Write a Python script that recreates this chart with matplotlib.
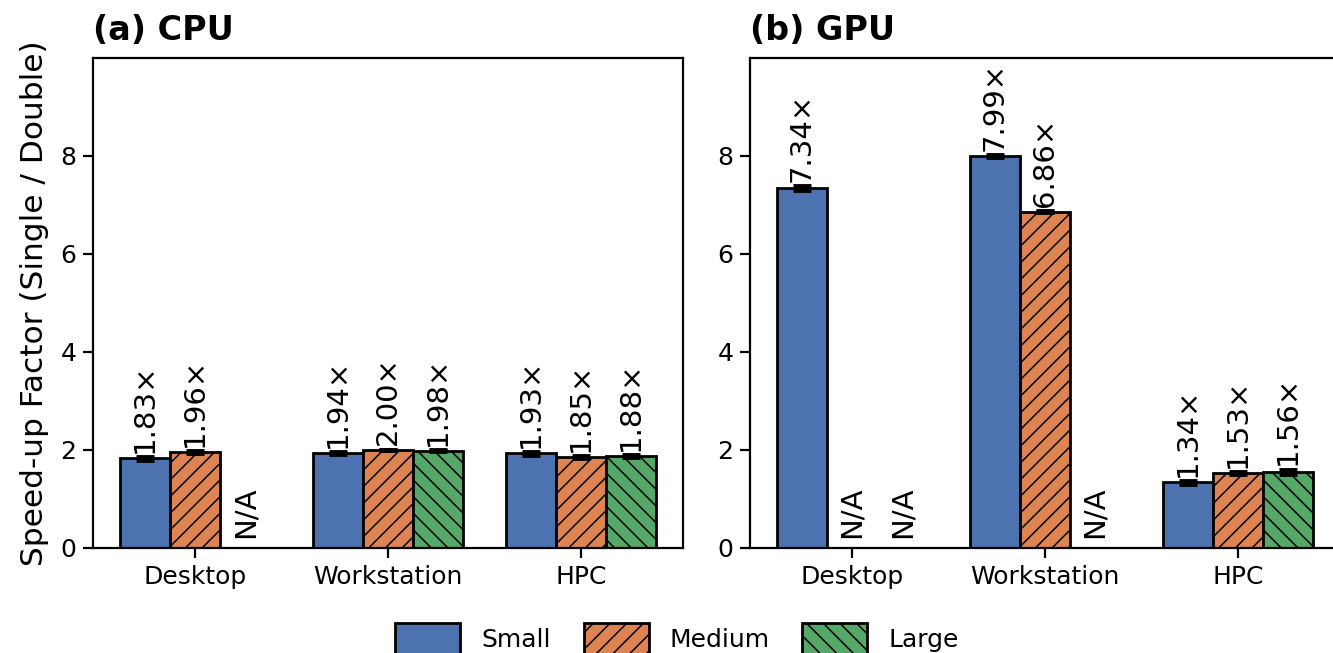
import numpy as np
import matplotlib
matplotlib.use("Agg")
import matplotlib.pyplot as plt
from matplotlib.patches import Patch

# Speed-up of single over double precision, per machine and problem size
machines = ["Desktop", "Workstation", "HPC"]
sizes = ["Small", "Medium", "Large"]

cpu_small = [1.83, 1.94, 1.93]
cpu_medium = [1.96, 2.00, 1.85]
cpu_large = [np.nan, 1.98, 1.88]

gpu_small = [7.34, 7.99, 1.34]
gpu_medium = [np.nan, 6.86, 1.53]
gpu_large = [np.nan, np.nan, 1.56]

# run-to-run spread (std) of the speed-up
cpu_small_err = [0.03, 0.02, 0.03]
cpu_medium_err = [0.02, 0.01, 0.02]
cpu_large_err = [np.nan, 0.01, 0.02]

gpu_small_err = [0.04, 0.02, 0.03]
gpu_medium_err = [np.nan, 0.01, 0.02]
gpu_large_err = [np.nan, np.nan, 0.04]

colors = {"Small": "#4C72B0", "Medium": "#DD8452", "Large": "#55A868"}
hatches = {"Small": "", "Medium": "//", "Large": "\\\\"}

plt.rcParams["font.family"] = "DejaVu Sans"
plt.rcParams["hatch.linewidth"] = 1.1

width = 0.26
tick_size = 18
value_size = 21


def plot_panel(ax, series, errors, title):
    x = np.arange(len(machines))
    for i, size in enumerate(sizes):
        values = np.array(series[i], dtype=float)
        errs = np.array(errors[i], dtype=float)
        pos = x + (i - 1) * width
        heights = np.nan_to_num(values)
        ax.bar(pos, heights, width, color=colors[size], hatch=hatches[size],
               edgecolor="black", linewidth=2, zorder=2)
        ok = ~np.isnan(values)
        ax.errorbar(pos[ok], values[ok], yerr=errs[ok], fmt="none", ecolor="black",
                    elinewidth=3, capsize=6.5, capthick=3.5, zorder=3)
        for p, v, e in zip(pos, values, errs):
            if np.isnan(v):
                ax.annotate("N/A", (p, 0), xytext=(0, 7), textcoords="offset points",
                            rotation=90, ha="center", va="bottom", fontsize=value_size)
            else:
                ax.annotate(f"{v:.2f}\u00d7", (p, v + e), xytext=(0, 3),
                            textcoords="offset points", rotation=90,
                            ha="center", va="bottom", fontsize=value_size)

    ax.set_xticks(x)
    ax.set_xticklabels(machines)
    ax.set_ylim(0, 10)
    ax.set_yticks([0, 2, 4, 6, 8])
    ax.tick_params(labelsize=tick_size, length=7, width=1.6, pad=5)
    for spine in ax.spines.values():
        spine.set_linewidth(1.6)
    ax.set_title(title, loc="left", fontsize=24, fontweight="bold", pad=13)


fig = plt.figure(figsize=(13.33, 6.53), dpi=100)
ax_cpu = fig.add_axes([0.0698, 0.1608, 0.4426, 0.7504])
ax_gpu = fig.add_axes([0.5626, 0.1608, 0.4426, 0.7504])

plot_panel(ax_cpu, [cpu_small, cpu_medium, cpu_large],
           [cpu_small_err, cpu_medium_err, cpu_large_err], "(a) CPU")
plot_panel(ax_gpu, [gpu_small, gpu_medium, gpu_large],
           [gpu_small_err, gpu_medium_err, gpu_large_err], "(b) GPU")

ax_cpu.set_ylabel("Speed-up Factor (Single / Double)", fontsize=22.5, labelpad=8)

handles = [Patch(facecolor=colors[s], hatch=hatches[s], edgecolor="black", linewidth=2)
           for s in sizes]
fig.legend(handles, sizes, loc="center", bbox_to_anchor=(0.508, 0.022), ncol=3,
           frameon=False, fontsize=tick_size, handlelength=2.6, handleheight=1.6,
           handletextpad=0.85, columnspacing=1.3)

fig.savefig("out.png", dpi=100)
